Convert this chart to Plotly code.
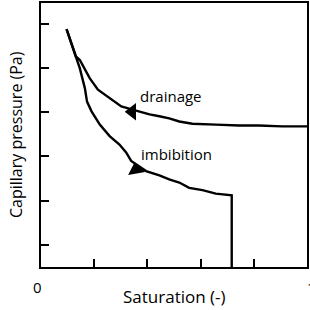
import plotly.graph_objects as go

# Drainage curve (saturation, capillary pressure in arbitrary units)
drain_s = [0.096, 0.115, 0.131, 0.146, 0.165, 0.183, 0.214, 0.258, 0.302, 0.344,
           0.408, 0.445, 0.482, 0.520, 0.569, 0.657, 0.744, 0.819, 0.906, 1.0]
drain_pc = [5.38, 5.02, 4.76, 4.68, 4.46, 4.27, 4.01, 3.82, 3.63, 3.56,
            3.45, 3.41, 3.36, 3.29, 3.24, 3.22, 3.20, 3.20, 3.18, 3.18]

# Imbibition curve
imb_s = [0.096, 0.115, 0.131, 0.146, 0.165, 0.173, 0.190, 0.221, 0.258, 0.295,
         0.320, 0.339, 0.395, 0.445, 0.482, 0.520, 0.557, 0.607, 0.657, 0.717, 0.717]
imb_pc = [5.38, 5.02, 4.76, 4.49, 4.04, 3.74, 3.52, 3.22, 2.96, 2.77,
          2.59, 2.40, 2.17, 2.07, 1.98, 1.91, 1.79, 1.74, 1.66, 1.62, 0.0]

# Arrow heads (position on curves)
arrow_s = [0.343, 0.357]
arrow_pc = [3.51, 2.20]
arrow_symbol = ["triangle-left", "triangle-up"]
arrow_angle = [0, -10]

# Curve labels
label_text = ["drainage", "imbibition"]
label_s = [0.488, 0.508]
label_pc = [3.86, 2.55]

# Axis ticks
x_ticks = [0.2, 0.4, 0.6, 0.8]
y_ticks = [0.5, 1.5, 2.5, 3.5, 4.5, 5.5]
x_ticklabel_vals = [0, 1]
x_ticklabel_text = ["0", "1"]

FONT = "Open Sans"

fig = go.Figure()
fig.add_trace(go.Scatter(x=drain_s, y=drain_pc, mode="lines",
                         line=dict(color="black", width=2.4), hoverinfo="skip"))
fig.add_trace(go.Scatter(x=imb_s, y=imb_pc, mode="lines",
                         line=dict(color="black", width=2.4), hoverinfo="skip"))
fig.add_trace(go.Scatter(x=arrow_s, y=arrow_pc, mode="markers",
                         marker=dict(symbol=arrow_symbol, angle=arrow_angle, size=15,
                                     color="black", line=dict(width=0)),
                         hoverinfo="skip"))

for t, xs, ys in zip(label_text, label_s, label_pc):
    fig.add_annotation(x=xs, y=ys, text=t, showarrow=False,
                       font=dict(family=FONT, size=15, color="black"),
                       xanchor="center", yanchor="middle")

for v, t, sh in zip(x_ticklabel_vals, x_ticklabel_text, [-4, 4]):
    fig.add_annotation(x=v, xref="x", y=-0.077, yref="paper", text=t, showarrow=False,
                       xshift=sh, font=dict(family=FONT, size=15, color="black"),
                       xanchor="center", yanchor="middle")

fig.add_annotation(x=0.5, xref="paper", y=-0.111, yref="paper", text="Saturation (-)",
                   showarrow=False, font=dict(family=FONT, size=17, color="black"),
                   xanchor="center", yanchor="middle")
fig.add_annotation(x=0, xref="paper", y=0.5, yref="paper", text="Capillary pressure (Pa)",
                   showarrow=False, xshift=-25, textangle=-90,
                   font=dict(family=FONT, size=16, color="black"),
                   xanchor="center", yanchor="middle")

axis_common = dict(showgrid=False, zeroline=False, showline=True, linecolor="black",
                   linewidth=2, mirror=True, ticks="inside", ticklen=8, tickwidth=1.5,
                   tickcolor="black", showticklabels=False, fixedrange=True)

fig.update_xaxes(range=[0, 1], tickvals=x_ticks, **axis_common)
fig.update_yaxes(range=[0, 5.97], tickvals=y_ticks, **axis_common)

fig.update_layout(width=310, height=310, showlegend=False,
                  margin=dict(l=41, r=2, t=1, b=43, pad=0),
                  plot_bgcolor="white", paper_bgcolor="white",
                  font=dict(family=FONT))

fig.write_html("out.html", config={"displayModeBar": False},
               post_script="document.body.style.margin='0';document.body.style.padding='0';")
